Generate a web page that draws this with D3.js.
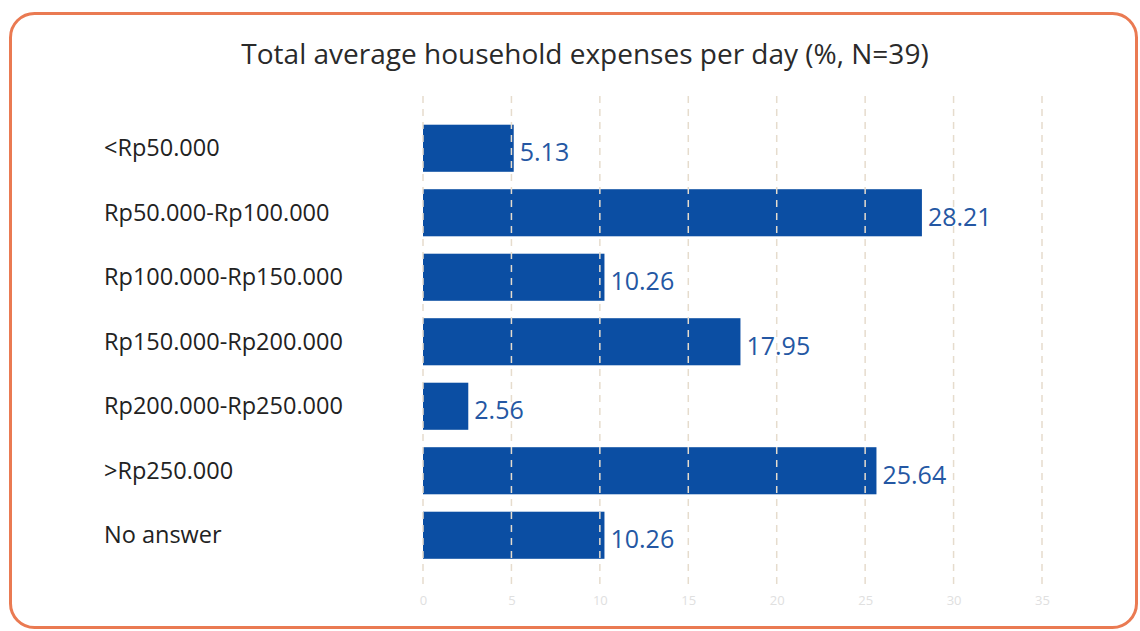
<!DOCTYPE html>
<html>
<head>
<meta charset="utf-8">
<script src="https://cdn.jsdelivr.net/npm/d3@7"></script>
<style>
  html, body { margin: 0; padding: 0; background: #ffffff; }
  svg { display: block; }
</style>
</head>
<body>
<svg id="chart" width="1140" height="631"></svg>
<script>
// Household expense brackets and share of respondents (%)
const categories = [
  "<Rp50.000",
  "Rp50.000-Rp100.000",
  "Rp100.000-Rp150.000",
  "Rp150.000-Rp200.000",
  "Rp200.000-Rp250.000",
  ">Rp250.000",
  "No answer"
];
const values = [5.13, 28.21, 10.26, 17.95, 2.56, 25.64, 10.26];
const tickValues = [0, 5, 10, 15, 20, 25, 30, 35];
const title = "Total average household expenses per day (%, N=39)";

const svg = d3.select("#chart");

// rounded card frame
svg.append("rect")
  .attr("x", 10.5).attr("y", 13.5)
  .attr("width", 1126).attr("height", 614)
  .attr("rx", 24).attr("ry", 24)
  .attr("fill", "#ffffff")
  .attr("stroke", "#ea7a52")
  .attr("stroke-width", 3);

// title
svg.append("text")
  .attr("x", 585).attr("y", 64)
  .attr("text-anchor", "middle")
  .attr("font-family", "'Open Sans', sans-serif")
  .attr("font-size", 28)
  .attr("fill", "#2a2a2a")
  .text(title);

const x = d3.scaleLinear().domain([0, 35]).range([423, 1042]);
const y = d3.scaleBand()
  .domain(categories)
  .range([116, 567.5])
  .paddingInner(0.27)
  .paddingOuter(0.135);

const data = categories.map((c, i) => ({ c, v: values[i] }));

// bars
svg.append("g").selectAll("rect")
  .data(data)
  .join("rect")
  .attr("x", x(0))
  .attr("y", d => y(d.c))
  .attr("width", d => x(d.v) - x(0))
  .attr("height", y.bandwidth())
  .attr("fill", "#0b4ea3");

// dashed vertical grid drawn over the bars
svg.append("g").selectAll("line")
  .data(tickValues)
  .join("line")
  .attr("x1", d => x(d)).attr("x2", d => x(d))
  .attr("y1", 96).attr("y2", 586)
  .attr("stroke", "#e6dccd")
  .attr("stroke-width", 1.5)
  .attr("stroke-dasharray", "7,6");

// faint axis tick labels
const axis = d3.axisBottom(x).tickValues(tickValues).tickSize(0).tickFormat(d3.format("d"));
const axG = svg.append("g").attr("transform", "translate(0,593)").call(axis);
axG.select(".domain").remove();
axG.selectAll("text")
  .attr("font-family", "'Open Sans', sans-serif")
  .attr("font-size", 13)
  .attr("fill", "#e0e0e0");

// category labels
svg.append("g").selectAll("text")
  .data(data)
  .join("text")
  .attr("x", 104)
  .attr("y", d => y(d.c) + y.bandwidth() / 2)
  .attr("dy", "0.35em")
  .attr("font-family", "'Open Sans', sans-serif")
  .attr("font-size", 23.5)
  .attr("fill", "#222222")
  .text(d => d.c);

// value labels
svg.append("g").selectAll("text")
  .data(data)
  .join("text")
  .attr("x", d => x(d.v) + 6)
  .attr("y", d => y(d.c) + y.bandwidth() / 2 + 4)
  .attr("dy", "0.35em")
  .attr("font-family", "'Open Sans', sans-serif")
  .attr("font-size", 25)
  .attr("fill", "#2457a3")
  .text(d => d.v.toFixed(2));
</script>
</body>
</html>
